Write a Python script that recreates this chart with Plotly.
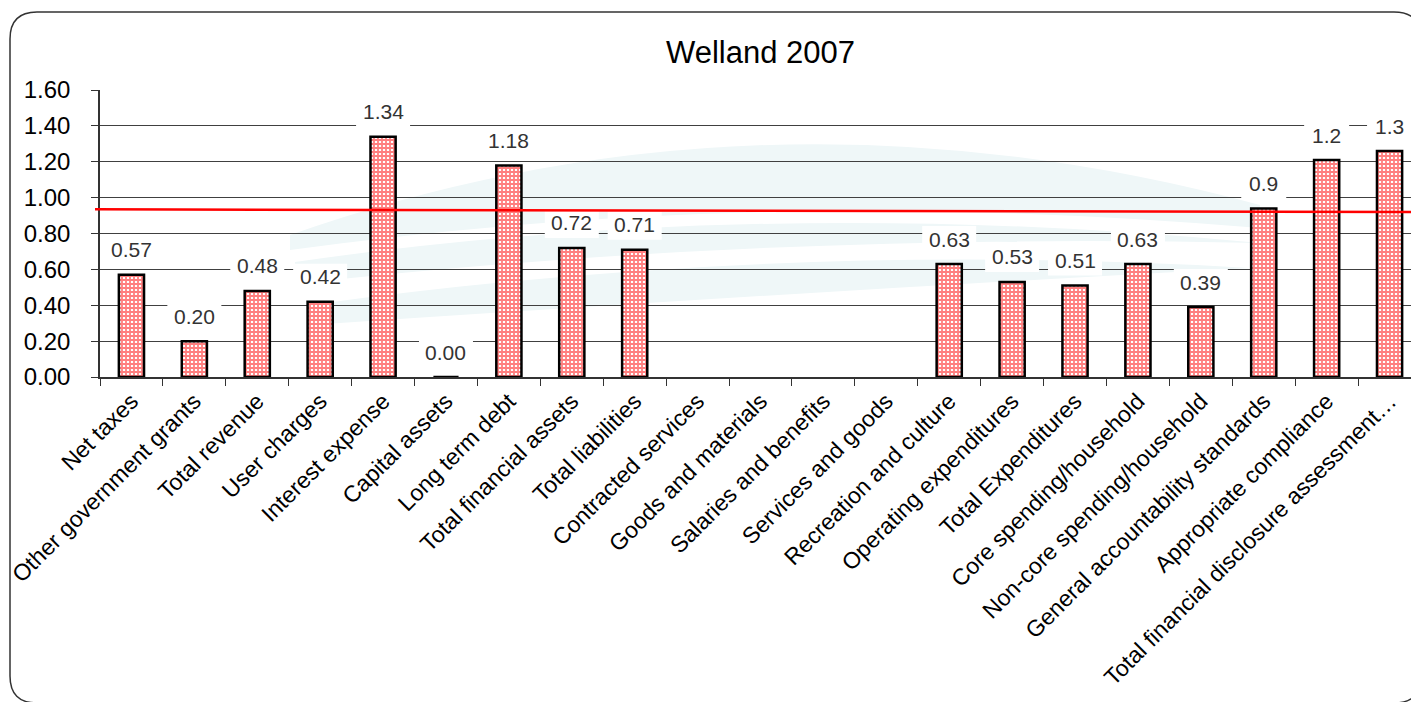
import plotly.graph_objects as go

# Welland 2007 indicator scores
categories = [
    "Net taxes", "Other government grants", "Total revenue", "User charges",
    "Interest expense", "Capital assets", "Long term debt", "Total financial assets",
    "Total liabilities", "Contracted services", "Goods and materials",
    "Salaries and benefits", "Services and goods", "Recreation and culture",
    "Operating expenditures", "Total Expenditures", "Core spending/household",
    "Non-core spending/household", "General accountability standards",
    "Appropriate compliance", "Total financial disclosure assessment\u2026",
]
values = [0.57, 0.20, 0.48, 0.42, 1.34, 0.00, 1.18, 0.72, 0.71,
          None, None, None, None, 0.63, 0.53, 0.51, 0.63, 0.39, 0.94, 1.21, 1.26]
value_labels = ["0.57", "0.20", "0.48", "0.42", "1.34", "0.00", "1.18", "0.72", "0.71",
                "", "", "", "", "0.63", "0.53", "0.51", "0.63", "0.39", "0.9", "1.2", "1.3"]
avg_line = [0.935, 0.92]  # red reference line, left end / right end
y_ticks = [0, 0.2, 0.4, 0.6, 0.8, 1.0, 1.2, 1.4, 1.6]

W, H = 1419, 702
OFF = 8  # page body margin around the plot div
ML, MR, MT, MB = 92, 6, 82, 333
FONT = "Liberation Sans, Arial, sans-serif"


def to_paper(x, y):
    # page pixel position -> paper coordinates
    x, y = x - OFF, y - OFF
    return (x - ML) / (W - ML - MR), (H - MB - y) / (H - MT - MB)


def pt(x, y):
    px, py = to_paper(x, y)
    return f"{px:.5f},{py:.5f}"


def page_path(spec):
    # "M x,y Q x,y x,y ..." in page pixels -> paper path
    out = []
    for tok in spec.split():
        if tok[0].isalpha():
            out.append(tok[0])
            tok = tok[1:]
            if not tok:
                continue
        xs, ys = tok.split(",")
        out.append(pt(float(xs), float(ys)))
    return " ".join(out).replace("M ", "M").replace("Q ", "Q").replace("L ", "L")


def rounded_frame(x0, y0, x1, y1, r):
    return (f"M{pt(x0 + r, y0)} L{pt(x1 - r, y0)} Q{pt(x1, y0)} {pt(x1, y0 + r)} "
            f"L{pt(x1, y1 - r)} Q{pt(x1, y1)} {pt(x1 - r, y1)} "
            f"L{pt(x0 + r, y1)} Q{pt(x0, y1)} {pt(x0, y1 - r)} "
            f"L{pt(x0, y0 + r)} Q{pt(x0, y0)} {pt(x0 + r, y0)} Z")


fig = go.Figure()
fig.add_trace(go.Bar(
    x=categories, y=values, width=0.4,
    marker=dict(color="white", line=dict(color="black", width=2.5),
                pattern=dict(shape="+", fgcolor="#ff0000", bgcolor="white",
                             size=4, solidity=0.7)),
))

# faint watermark logo behind the plot
swooshes = [
    "M290,235 Q760,70 1260,205 L1260,228 Q760,185 290,250 Z",
    "M295,262 Q760,195 1260,243 Q760,232 295,284 Z",
    "M310,305 Q780,240 1250,268 Q800,292 310,325 Z",
]
for s in swooshes:
    fig.add_shape(type="path", xref="paper", yref="paper", path=page_path(s),
                  fillcolor="#eff7f8", line=dict(width=0), layer="below")

# white label boxes that cut the gridlines
for i, (v, lab) in enumerate(zip(values, value_labels)):
    if v is None:
        continue
    half = 9 + 4.5 * len(lab)
    fig.add_shape(type="rect", xref="x", yref="y",
                  xsizemode="pixel", ysizemode="pixel", xanchor=i, yanchor=v,
                  x0=-half, x1=half, y0=10, y1=38,
                  fillcolor="white", line=dict(width=0), layer="between")
    fig.add_annotation(x=categories[i], y=v, text=lab, showarrow=False, yshift=25,
                       font=dict(family=FONT, size=21, color="#333333"))

lx0, _ = to_paper(95, 0)
lx1, _ = to_paper(1430, 0)
fig.add_shape(type="line", xref="paper", yref="y", x0=lx0, x1=lx1,
              y0=avg_line[0], y1=avg_line[1], line=dict(color="#ff0000", width=2.5),
              layer="above")
fig.add_shape(type="path", xref="paper", yref="paper",
              path=rounded_frame(10, 12, 1421, 703, 27),
              line=dict(color="#333333", width=1.5), layer="below")

fig.update_layout(
    width=W, height=H,
    margin=dict(l=ML, r=MR, t=MT, b=MB, autoexpand=False),
    paper_bgcolor="white", plot_bgcolor="rgba(0,0,0,0)",
    showlegend=False,
    title=dict(text="Welland 2007", x=0.5, xanchor="center", xref="paper",
               y=(H - 44) / H, yanchor="middle",
               font=dict(family=FONT, size=31, color="black")),
)
fig.update_xaxes(
    range=[-0.5, 20.5], tickangle=-45, tickson="boundaries", ticks="outside",
    ticklen=7, tickcolor="#333333", showline=True, linecolor="#333333", linewidth=1.5,
    showgrid=False, automargin=False,
    tickfont=dict(family=FONT, size=23, color="black"),
)
fig.update_yaxes(
    range=[0, 1.6005], tickvals=y_ticks, tickformat=".2f", ticks="outside",
    ticklen=7, tickcolor="#333333", showline=True, linecolor="#333333", linewidth=1.5,
    showgrid=True, gridcolor="#404040", gridwidth=1, zeroline=False,
    automargin=False, ticklabelstandoff=16,
    tickfont=dict(family=FONT, size=24, color="black"),
)

fig.write_html("out.html")
